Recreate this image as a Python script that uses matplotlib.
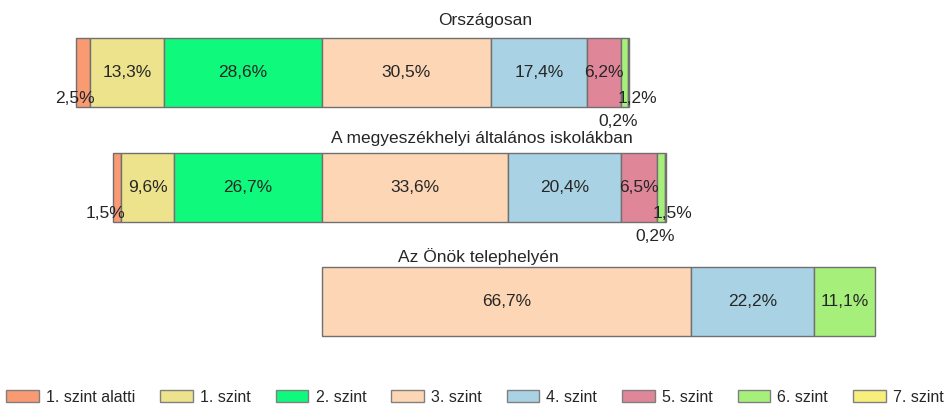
import matplotlib.pyplot as plt
from matplotlib.transforms import offset_copy

plt.rcParams["font.family"] = ["Liberation Sans", "DejaVu Sans"]

levels = ["1. szint alatti", "1. szint", "2. szint", "3. szint",
          "4. szint", "5. szint", "6. szint", "7. szint"]
colors = ["#f99a72", "#ede38c", "#0ff97c", "#fdd6b5",
          "#a9d3e5", "#df8699", "#a7ef7b", "#f7ee7c"]

groups = ["Országosan", "A megyeszékhelyi általános iskolákban", "Az Önök telephelyén"]
orszagos = [2.5, 13.3, 28.6, 30.5, 17.4, 6.2, 1.2, 0.2]
megye = [1.5, 9.6, 26.7, 33.6, 20.4, 6.5, 1.5, 0.2]
telephely = [0, 0, 0, 66.7, 22.2, 0, 11.1, 0]
data = [orszagos, megye, telephely]

# bar centres / title positions in pixels (y axis runs in pixels, top = 0)
bar_y = [72.5, 187.5, 301.5]
bar_h = 69
title_xy = [(485, 21), (482, 138), (478, 257)]

fig = plt.figure(figsize=(9.5, 4.05), dpi=100)
ax = fig.add_axes([0, 0, 1, 1])
px = 5.53  # pixels per percent
ax.set_xlim(-322 / px, (950 - 322) / px)
ax.set_ylim(405, 0)
ax.axis("off")

def fmt(v):
    return f"{v:.1f}".replace(".", ",") + "%"

txt = dict(fontsize=12.5, color="#262626")

for vals, y in zip(data, bar_y):
    # aligned so that the 2. / 3. szint boundary sits at zero
    left = -sum(vals[:3])
    for i, v in enumerate(vals):
        if v > 0:
            ax.barh(y, v, left=left, height=bar_h, color=colors[i],
                    edgecolor="#707070", linewidth=1.0)
            cx = left + v / 2
            if v >= 5:
                ax.text(cx, y, fmt(v), ha="center", va="center", **txt)
            elif i == 0:
                tr = offset_copy(ax.transData, fig=fig, x=4, y=0, units="dots")
                ax.text(left + v, y + 26, fmt(v), ha="right", va="center",
                        transform=tr, **txt)
            elif i == 6:
                tr = offset_copy(ax.transData, fig=fig, x=-4, y=0, units="dots")
                ax.text(left, y + 26, fmt(v), ha="left", va="center",
                        transform=tr, **txt)
            else:
                tr = offset_copy(ax.transData, fig=fig, x=-10, y=0, units="dots")
                ax.text(cx, y + 49, fmt(v), ha="center", va="center",
                        transform=tr, **txt)
        left += v

for name, (tx, ty) in zip(groups, title_xy):
    fig.text(tx / 950, 1 - ty / 405, name, ha="center", va="center", **txt)

handles = [plt.Rectangle((0, 0), 1, 1, facecolor=c, edgecolor="#808080")
           for c in colors]
fig.legend(handles, levels, loc="center", bbox_to_anchor=(0.5, 1 - 397 / 405),
           ncol=8, frameon=False, fontsize=11.5, handlelength=2.05,
           handleheight=0.7, columnspacing=1.55, handletextpad=0.45,
           labelcolor="#262626", borderpad=0.1)

fig.savefig("out.png", dpi=100)
